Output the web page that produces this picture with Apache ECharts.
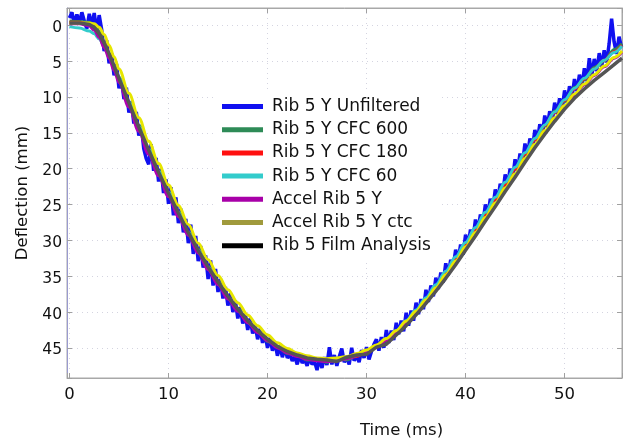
<!DOCTYPE html>
<html>
<head>
<meta charset="utf-8">
<script src="https://cdn.jsdelivr.net/npm/echarts@6/dist/echarts.min.js"></script>
<style>
html,body{margin:0;padding:0;background:#fff;}
#chart{width:625px;height:444px;}
</style>
</head>
<body>
<div id="chart"></div>
<script>
// Time grid (ms) for the smooth / filtered curves
const tSmooth = [0,1,2,2.5,3,3.5,4,4.5,5,6,7,8,9,10,11,12,13,14,15,16,17,18,19,20,21,22,23,24,25,26,27,28,29,30,31,32,33,34,35,36,37,38,39,40,41,42,43,44,45,46,47,48,49,50,51,52,53,54,55,55.8];

const cfc600 = [-0.6,-0.5,-0.4,0.1,0.8,2.4,3.9,5.8,7.3,11.0,14.0,17.7,20.3,23.6,26.0,29.1,31.2,34.0,35.7,38.1,39.5,41.5,42.6,44.1,44.8,45.8,46.0,46.7,46.6,47.0,46.5,46.7,46.0,45.7,44.7,44.0,42.6,41.6,39.8,38.4,36.3,34.7,32.4,30.7,28.3,26.5,24.1,22.3,19.9,18.1,15.8,14.1,12.0,10.6,8.7,7.6,5.9,5.0,3.4,2.6];
const cfc180 = [-0.4,-0.4,-0.1,0.4,1.2,2.5,4.0,5.7,7.4,10.8,14.2,17.4,20.5,23.4,26.2,28.9,31.4,33.8,35.9,37.9,39.7,41.3,42.7,43.9,44.9,45.6,46.1,46.5,46.7,46.8,46.7,46.5,46.2,45.6,44.9,43.9,42.8,41.5,40.0,38.3,36.5,34.6,32.6,30.6,28.5,26.4,24.3,22.2,20.1,18.0,16.0,14.0,12.2,10.5,8.9,7.5,6.1,4.9,3.7,2.8];
const cfc60 = [0.2,0.4,0.8,1.2,1.9,2.9,4.2,5.7,7.3,10.7,14.1,17.3,20.4,23.3,26.1,28.8,31.4,33.7,35.9,37.9,39.7,41.3,42.7,43.9,44.9,45.6,46.1,46.5,46.7,46.8,46.7,46.5,46.1,45.5,44.7,43.7,42.6,41.2,39.7,38.0,36.2,34.3,32.3,30.3,28.2,26.1,24.0,21.9,19.8,17.8,15.8,13.9,12.1,10.4,8.8,7.4,6.1,4.9,3.8,2.9];
const accel = [-0.2,-0.2,0.1,0.7,1.7,3.1,4.6,6.3,8.0,11.4,14.8,18.0,21.0,23.9,26.7,29.3,31.8,34.1,36.2,38.2,39.9,41.5,42.9,44.0,45.0,45.7,46.2,46.6,46.8,46.9,46.8,46.5,46.1,45.5,44.8,43.9,42.8,41.5,40.1,38.5,36.8,35.0,33.1,31.1,29.1,27.0,25.0,22.9,20.9,18.8,16.8,14.9,13.1,11.4,9.8,8.3,7.0,5.8,4.6,3.7];
const accelCtc = [-0.3,-0.3,-0.3,-0.2,0.3,1.3,2.8,4.4,6.1,9.5,12.9,16.2,19.3,22.3,25.1,27.8,30.4,32.7,34.9,36.9,38.7,40.4,41.9,43.2,44.3,45.1,45.7,46.1,46.4,46.5,46.4,46.2,45.8,45.3,44.6,43.7,42.6,41.3,39.9,38.3,36.6,34.8,32.9,30.9,28.9,26.8,24.8,22.7,20.7,18.6,16.6,14.7,12.9,11.2,9.6,8.2,6.9,5.7,4.5,3.6];
const film = [-0.3,-0.3,-0.1,0.3,1.2,2.5,4.0,5.7,7.4,10.8,14.2,17.4,20.5,23.4,26.2,28.9,31.4,33.7,35.8,37.8,39.6,41.2,42.6,43.8,44.8,45.5,46.0,46.4,46.6,46.7,46.9,46.3,46.0,45.9,44.9,44.5,43.2,41.9,40.4,38.8,37.1,35.3,33.4,31.4,29.4,27.3,25.3,23.2,21.2,19.1,17.1,15.2,13.4,11.7,10.2,8.9,7.7,6.6,5.5,4.6];

// Unfiltered signal, sampled every 0.25 ms from t = 0
const unfilteredStart = 0;
const unfilteredStep = 0.25;
const unfiltered = [
-1.0,-1.8,-0.2,-1.5, -0.4,-1.8,-0.6,0.5, -1.6,0.1,-1.7,0.8, -1.4,0.6,3.6,2.1,
5.3,3.9,7.0,5.4, 8.8,7.5,10.3,8.7, 12.2,10.6,13.7,12.1, 15.4,13.9,17.2,18.6,
19.4,16.6,20.3,18.5, 21.8,20.0,23.4,21.5, 24.9,22.6,26.5,24.0, 27.6,25.6,28.9,27.0,
30.4,27.8,31.9,29.4, 32.9,30.8,33.8,32.1, 35.4,32.8,36.3,34.0, 37.2,35.4,38.1,36.5,
39.1,37.4,40.0,38.4, 40.9,39.3,41.6,40.2, 42.5,40.9,43.0,41.8, 43.8,42.3,44.3,43.1,
45.0,43.6,45.4,44.2, 46.1,44.7,46.3,45.0, 46.4,45.9,46.8,46.2, 47.3,46.0,47.1,46.6,
47.5,46.4,47.3,46.9, 48.1,46.5,47.8,46.3, 47.4,44.9,47.3,46.0, 47.5,46.2,45.1,47.0,
46.4,47.3,45.0,46.8, 46.1,47.0,45.3,46.4, 44.9,46.6,45.5,44.5, 43.8,45.4,43.5,45.0,
42.5,44.3,42.6,43.9, 41.5,43.1,41.2,42.7, 40.1,41.9,39.8,41.2, 38.7,40.3,38.2,39.6,
36.9,38.6,36.3,37.8, 35.2,36.8,34.5,35.9, 33.2,34.9,32.7,33.8, 31.3,32.9,30.6,32.0,
29.2,30.8,28.5,29.9, 27.1,28.7,26.4,27.8, 25.0,26.6,24.2,25.7, 22.9,24.5,22.1,23.6,
20.8,22.4,20.0,21.5, 18.7,20.3,17.9,19.4, 16.5,18.2,15.8,17.3, 14.6,16.2,13.8,15.4,
12.6,14.2,12.0,13.5, 10.8,12.4,10.2,11.8, 9.1,10.8,8.5,10.1, 7.5,9.2,6.9,8.6,
6.0,7.8,4.6,7.1, 4.7,6.4,3.9,5.8, 3.5,5.2,2.6,-0.9, 2.3,4.0,1.6,3.1
];

const seriesNames = ['Rib 5 Y Unfiltered','Rib 5 Y CFC 600','Rib 5 Y CFC 180','Rib 5 Y CFC 60','Accel Rib 5 Y','Accel Rib 5 Y ctc','Rib 5 Film Analysis'];
const xTitle = 'Time (ms)';
const yTitle = 'Deflection (mm)';

const FONT = 'DejaVu Sans';
const pairs = (ts, vs) => vs.map((v, i) => [ts[i], v]);
const unfilteredPairs = unfiltered.map((v, i) => [unfilteredStart + i * unfilteredStep, v]);

const lineColors = ['#1010f0', '#2e8b57', '#ff1010', '#33cccc', '#b000b0', '#e6e600', '#555555'];
const legendColors = ['#1010f0', '#2e8b57', '#ff1010', '#33cccc', '#a800a8', '#a09a3c', '#000000'];
const datasets = [unfilteredPairs, pairs(tSmooth, cfc600), pairs(tSmooth, cfc180), pairs(tSmooth, cfc60),
  pairs(tSmooth, accel), pairs(tSmooth, accelCtc), pairs(tSmooth, film)];

const xMin = -0.25, xMax = 55.8, yMin = -2.4, yMax = 49.2;
const xFmt = v => (Math.abs(v / 10 - Math.round(v / 10)) < 1e-6 ? String(Math.round(v)) : '');
const yFmt = v => (Math.abs(v / 5 - Math.round(v / 5)) < 1e-6 ? '{t|' + Math.round(v) + '}' : '');

const chart = echarts.init(document.getElementById('chart'), null, {renderer: 'canvas'});
chart.setOption({
  animation: false,
  backgroundColor: '#fff',
  textStyle: {fontFamily: FONT},
  grid: {left: 67, right: 2, top: 8, bottom: 60, show: true, borderColor: '#a8a8a8', borderWidth: 1, backgroundColor: 'transparent'},
  legend: {
    orient: 'vertical', left: 213, top: 90, padding: [8, 10, 6, 9],
    backgroundColor: '#ffffff',
    icon: 'rect', itemWidth: 41, itemHeight: 5, itemGap: 6.2,
    textStyle: {fontFamily: FONT, fontSize: 17, color: '#111', lineHeight: 17, padding: [0, 0, 0, 4]},
    data: seriesNames.map((n, i) => ({name: n, itemStyle: {color: legendColors[i]}}))
  },
  xAxis: [{
    type: 'value', min: xMin, max: xMax, splitNumber: 6, minInterval: 10, maxInterval: 10,
    name: xTitle, nameLocation: 'middle', nameGap: 44, nameMoveOverlap: false,
    nameTextStyle: {fontFamily: FONT, fontSize: 16.5, color: '#111', padding: [0, 0, 0, 114]},
    axisLine: {onZero: false, lineStyle: {color: '#a8a8a8', width: 1}},
    axisTick: {inside: true, length: 5, lineStyle: {color: '#a0a0a0'}},
    axisLabel: {formatter: xFmt, fontFamily: FONT, fontSize: 16.5, color: '#111', margin: 8},
    splitLine: {show: true, lineStyle: {color: '#d4d4e0', type: [1, 4], width: 1}}
  }, {
    type: 'value', position: 'top', min: xMin, max: xMax, splitNumber: 6, minInterval: 10, maxInterval: 10,
    axisLine: {onZero: false, lineStyle: {color: '#a8a8a8'}},
    axisTick: {inside: true, length: 5, lineStyle: {color: '#a0a0a0'}},
    axisLabel: {show: false}, splitLine: {show: false}
  }],
  yAxis: [{
    type: 'value', inverse: true, min: yMin, max: yMax, splitNumber: 10, minInterval: 5, maxInterval: 5,
    name: yTitle, nameLocation: 'middle', nameGap: 36, nameMoveOverlap: false,
    nameTextStyle: {fontFamily: FONT, fontSize: 16.5, color: '#111'},
    axisLine: {onZero: false, lineStyle: {color: '#9a9ad0', width: 1}},
    axisTick: {inside: true, length: 5, lineStyle: {color: '#a0a0a0'}},
    axisLabel: {formatter: yFmt, fontFamily: FONT, fontSize: 15.5, color: '#111', margin: 5,
      rich: {t: {fontFamily: FONT, fontSize: 15.5, color: '#111', padding: [5, 0, 0, 0]}}},
    splitLine: {show: true, lineStyle: {color: '#d4d4e0', type: [1, 4], width: 1}}
  }, {
    type: 'value', position: 'right', inverse: true, min: yMin, max: yMax, splitNumber: 10, minInterval: 5, maxInterval: 5,
    axisLine: {onZero: false, lineStyle: {color: '#a8a8a8'}},
    axisTick: {inside: true, length: 5, lineStyle: {color: '#a0a0a0'}},
    axisLabel: {show: false}, splitLine: {show: false}
  }],
  series: seriesNames.map((n, i) => ({
    name: n, type: 'line', data: datasets[i], symbol: 'none',
    smooth: (i === 0 || i === 6) ? false : 0.35, smoothMonotone: 'x',
    lineStyle: {color: lineColors[i], width: i === 0 ? 3.5 : (i === 6 ? 3.5 : 3)},
    itemStyle: {color: lineColors[i]},
    z: 2 + i
  }))
});
</script>
</body>
</html>
